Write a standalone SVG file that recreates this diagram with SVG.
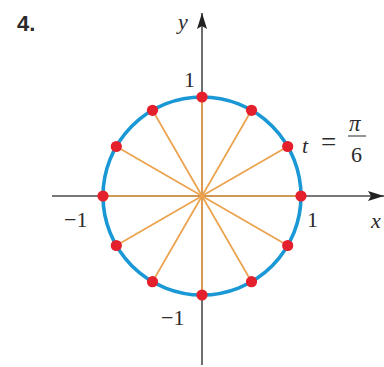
<svg xmlns="http://www.w3.org/2000/svg" width="384" height="367" viewBox="0 0 384 367">
<style>
.axis{stroke:#4a4a4a;stroke-width:1.6;fill:none}
.spoke{stroke:#eba24c;stroke-width:1.7;fill:none}
.dot{fill:#e3202b}
.lbl{font-family:"Liberation Serif","Times New Roman",serif;font-size:22px;fill:#2b2b2b}
.it{font-style:italic}
.num{font-family:"Liberation Sans",Arial,sans-serif;font-weight:bold;font-size:22px;fill:#2b2b2b}
</style>
<defs>
<marker id="arr" viewBox="0 0 16 10" refX="16" refY="5" markerWidth="16" markerHeight="10" markerUnits="userSpaceOnUse" orient="auto">
<path d="M0,0 L16,5 L0,10 L3,5 Z" fill="#222"/>
</marker>
</defs>
<rect width="384" height="367" fill="#fff"/>
<text class="num" x="17" y="31">4.</text>
<g id="axes">
<line class="axis" x1="52" y1="196" x2="384" y2="196" marker-end="url(#arr)"/>
<line class="axis" x1="202" y1="365" x2="202" y2="13" marker-end="url(#arr)"/>
</g>
<g id="connectors">
<line class="spoke" x1="202" y1="196" x2="301" y2="196"/>
<line class="spoke" x1="202" y1="196" x2="287.7" y2="146.5"/>
<line class="spoke" x1="202" y1="196" x2="251.5" y2="110.3"/>
<line class="spoke" x1="202" y1="196" x2="202" y2="97"/>
<line class="spoke" x1="202" y1="196" x2="152.5" y2="110.3"/>
<line class="spoke" x1="202" y1="196" x2="116.3" y2="146.5"/>
<line class="spoke" x1="202" y1="196" x2="103" y2="196"/>
<line class="spoke" x1="202" y1="196" x2="116.3" y2="245.5"/>
<line class="spoke" x1="202" y1="196" x2="152.5" y2="281.7"/>
<line class="spoke" x1="202" y1="196" x2="202" y2="295"/>
<line class="spoke" x1="202" y1="196" x2="251.5" y2="281.7"/>
<line class="spoke" x1="202" y1="196" x2="287.7" y2="245.5"/>
</g>
<g id="circle">
<circle cx="202" cy="196" r="99" fill="none" stroke="#1a98d5" stroke-width="3.6"/>
</g>
<g id="points">
<circle class="dot" cx="301" cy="196" r="5.6"/>
<circle class="dot" cx="287.7" cy="146.5" r="5.6"/>
<circle class="dot" cx="251.5" cy="110.3" r="5.6"/>
<circle class="dot" cx="202" cy="97" r="5.6"/>
<circle class="dot" cx="152.5" cy="110.3" r="5.6"/>
<circle class="dot" cx="116.3" cy="146.5" r="5.6"/>
<circle class="dot" cx="103" cy="196" r="5.6"/>
<circle class="dot" cx="116.3" cy="245.5" r="5.6"/>
<circle class="dot" cx="152.5" cy="281.7" r="5.6"/>
<circle class="dot" cx="202" cy="295" r="5.6"/>
<circle class="dot" cx="251.5" cy="281.7" r="5.6"/>
<circle class="dot" cx="287.7" cy="245.5" r="5.6"/>
</g>
<g id="labels">
<text class="lbl it" x="178" y="29">y</text>
<text class="lbl it" x="371" y="228">x</text>
<text class="lbl" x="184" y="87">1</text>
<text class="lbl" x="307" y="227">1</text>
<text class="lbl" x="64" y="227">−1</text>
<text class="lbl" x="161" y="325">−1</text>
</g>
<g id="t-label">
<text class="lbl it" x="302" y="153">t</text>
<text class="lbl" x="321" y="151" style="font-size:27px">=</text>
<text class="lbl it" x="349" y="131" style="font-size:23px">π</text>
<line x1="348" y1="136" x2="366" y2="136" stroke="#2b2b2b" stroke-width="1"/>
<text class="lbl" x="351" y="162">6</text>
</g>
</svg>
